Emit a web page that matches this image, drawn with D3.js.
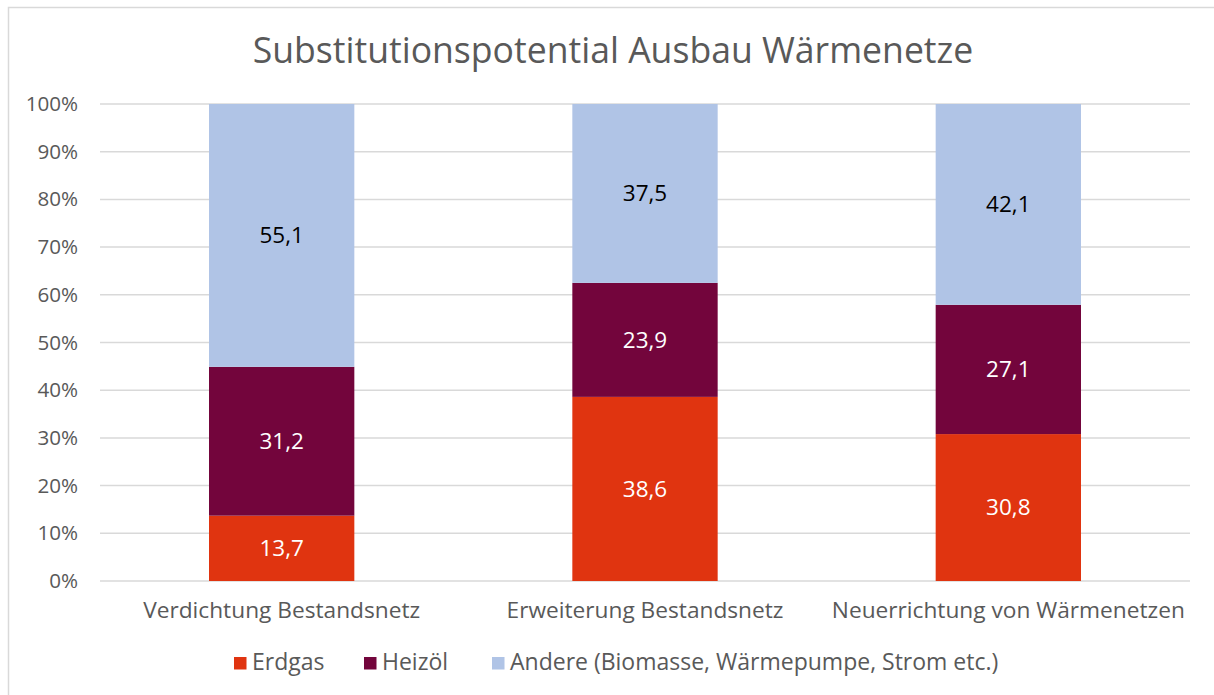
<!DOCTYPE html>
<html>
<head>
<meta charset="utf-8">
<script src="https://cdn.jsdelivr.net/npm/d3@7"></script>
<style>
  body { margin: 0; background: #fff; }
  text { font-family: "Open Sans", sans-serif; }
</style>
</head>
<body>
<div class="chart"></div>
<script>
var svgWidth = 1214;
var svgHeight = 695;

var margin = { top: 104, right: 24, bottom: 114, left: 100 };
var width = svgWidth - margin.left - margin.right;
var height = svgHeight - margin.top - margin.bottom;

// Data
var categories = ["Verdichtung Bestandsnetz", "Erweiterung Bestandsnetz", "Neuerrichtung von Wärmenetzen"];
var seriesNames = ["Erdgas", "Heizöl", "Andere (Biomasse, Wärmepumpe, Strom etc.)"];
var erdgas = [13.7, 38.6, 30.8];
var heizoel = [31.2, 23.9, 27.1];
var andere = [55.1, 37.5, 42.1];
var yTicks = [0, 10, 20, 30, 40, 50, 60, 70, 80, 90, 100];

var colors = ["#E03410", "#73053C", "#B0C4E6"];
var labelColors = ["#ffffff", "#ffffff", "#000000"];
var fontName = "Open Sans, sans-serif";

var rows = categories.map(function(c, i) {
  return { cat: c, Erdgas: erdgas[i], "Heizöl": heizoel[i], Andere: andere[i] };
});
var keys = ["Erdgas", "Heizöl", "Andere"];
var stacked = d3.stack().keys(keys)(rows);

var svg = d3.select(".chart")
  .append("svg")
  .attr("width", svgWidth)
  .attr("height", svgHeight);

// outer frame (right and bottom edges run off the picture)
svg.append("rect")
  .attr("x", 8.5).attr("y", 7.5)
  .attr("width", svgWidth).attr("height", svgHeight)
  .attr("fill", "none").attr("stroke", "#D9D9D9").attr("stroke-width", 1.5);

var chartGroup = svg.append("g")
  .attr("transform", `translate(${margin.left}, ${margin.top})`);

var xScale = d3.scaleBand().domain(categories).range([0, width]);
var yScale = d3.scaleLinear().domain([0, 100]).range([height, 0]);
var barW = xScale.bandwidth() * 0.4;

// gridlines
chartGroup.append("g")
  .selectAll("line")
  .data(yTicks)
  .enter()
  .append("line")
  .attr("x1", 0).attr("x2", width)
  .attr("y1", d => yScale(d)).attr("y2", d => yScale(d))
  .attr("stroke", "#D9D9D9").attr("stroke-width", 1.5);

// y axis labels
var leftAxis = d3.axisLeft(yScale).tickValues(yTicks).tickSize(0).tickPadding(22)
  .tickFormat(d => d + "%");
chartGroup.append("g")
  .call(leftAxis)
  .call(g => g.select(".domain").remove())
  .selectAll("text")
  .attr("font-size", "20.6px")
  .attr("font-family", fontName)
  .attr("fill", "#595959");

// x axis labels
var bottomAxis = d3.axisBottom(xScale).tickSize(0).tickPadding(21);
chartGroup.append("g")
  .attr("transform", `translate(0, ${height})`)
  .call(bottomAxis)
  .call(g => g.select(".domain").remove())
  .selectAll("text")
  .attr("font-size", "22.7px")
  .attr("font-family", fontName)
  .attr("fill", "#595959");

// bars
var layers = chartGroup.selectAll(".layer")
  .data(stacked)
  .enter()
  .append("g")
  .attr("class", "layer")
  .attr("fill", (d, i) => colors[i]);

layers.selectAll("rect")
  .data(d => d)
  .enter()
  .append("rect")
  .attr("x", d => xScale(d.data.cat) + (xScale.bandwidth() - barW) / 2)
  .attr("y", d => yScale(d[1]))
  .attr("width", barW)
  .attr("height", d => yScale(d[0]) - yScale(d[1]));

layers.each(function(layer, li) {
  d3.select(this).selectAll("text")
    .data(layer)
    .enter()
    .append("text")
    .attr("x", d => xScale(d.data.cat) + xScale.bandwidth() / 2)
    .attr("y", d => (yScale(d[0]) + yScale(d[1])) / 2)
    .attr("dy", "0.35em")
    .attr("text-anchor", "middle")
    .attr("font-size", "22.5px")
    .attr("fill", labelColors[li])
    .text(d => d.data[layer.key].toFixed(1).replace(".", ","));
});

// title
svg.append("text")
  .attr("x", 613)
  .attr("y", 63)
  .attr("text-anchor", "middle")
  .attr("font-size", "35.6px")
  .attr("fill", "#595959")
  .text("Substitutionspotential Ausbau Wärmenetze");

// legend
var legendX = [234, 364, 492];
var legend = svg.append("g");
seriesNames.forEach(function(name, i) {
  legend.append("rect")
    .attr("x", legendX[i]).attr("y", 657)
    .attr("width", 12.5).attr("height", 12.5)
    .attr("fill", colors[i]);
  legend.append("text")
    .attr("x", legendX[i] + 18).attr("y", 670)
    .attr("font-size", "23px")
    .attr("fill", "#595959")
    .text(name);
});
</script>
</body>
</html>
